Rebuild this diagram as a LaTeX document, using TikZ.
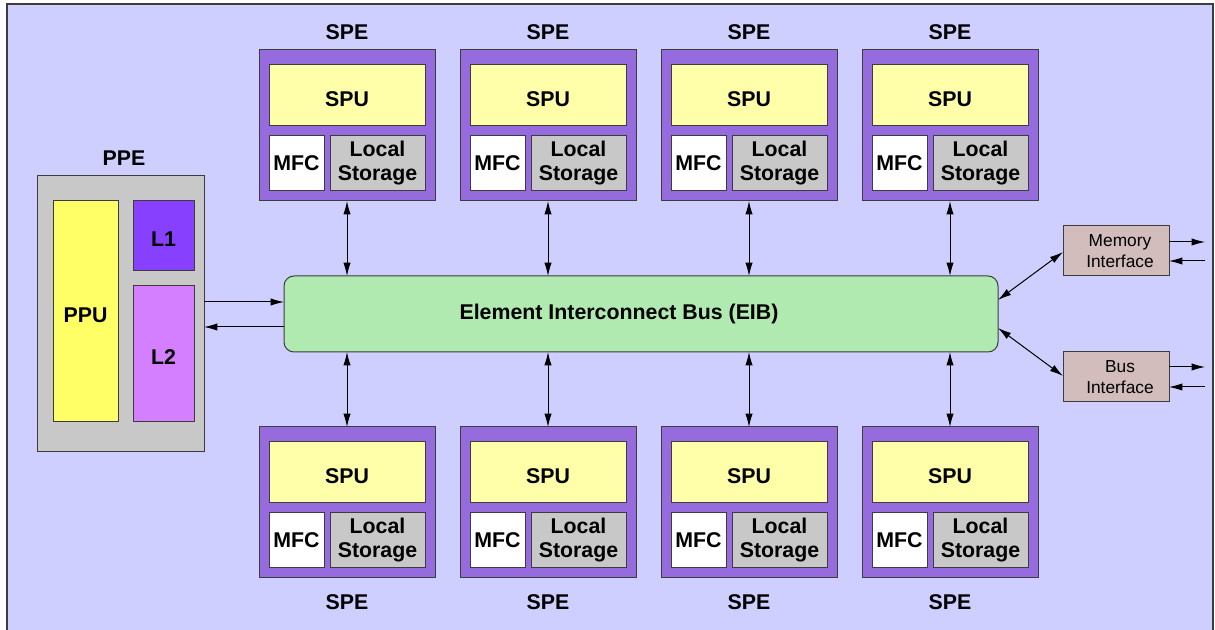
\documentclass[tikz,border=0pt]{standalone}
\usepackage{fontspec}
\setmainfont{Liberation Sans}
\usetikzlibrary{arrows.meta}
\definecolor{bgc}{RGB}{207,207,255}
\definecolor{spec}{RGB}{150,107,221}
\definecolor{spuc}{RGB}{255,255,170}
\definecolor{grayc}{RGB}{200,200,200}
\definecolor{ppuc}{RGB}{255,255,102}
\definecolor{lonec}{RGB}{136,64,255}
\definecolor{ltwoc}{RGB}{212,127,255}
\definecolor{eibc}{RGB}{176,234,176}
\definecolor{ifc}{RGB}{210,188,188}
\definecolor{linec}{RGB}{60,60,60}
\newcommand\bx[7]{%
 \pgfmathsetmacro\cx{(#2+#4)/2}\pgfmathsetmacro\cy{(#3+#5)/2}%
 \pgfmathsetmacro\ww{(#4-#2)*0.75}\pgfmathsetmacro\hh{(#5-#3)*0.75}%
 \node[#6, minimum width=\ww pt, minimum height=\hh pt] (#1) at (\cx,\cy) {#7};}
\begin{document}
\begin{tikzpicture}[x=0.75pt,y=-0.75pt,
  box/.style={draw=linec, line width=0.75pt, inner sep=0pt, outer sep=0pt, align=center,
    font=\fontsize{16}{18}\selectfont\bfseries},
  low/.style={text height=16pt, text depth=0pt},
  ifbox/.style={box, fill=ifc, font=\fontsize{13}{15.5}\selectfont},
  lbl/.style={font=\fontsize{16}{18}\selectfont\bfseries, inner sep=0pt},
  arr/.style={draw=black, line width=0.75pt, -{Latex[length=10pt,width=5.5pt]}},
  darr/.style={draw=black, line width=0.75pt, {Latex[length=10pt,width=5.5pt]}-{Latex[length=10pt,width=5.5pt]}}]
\useasboundingbox (0,0) rectangle (1215,630);
\fill[bgc] (7,4) rectangle (1213,632);
\draw[linec, line width=1pt] (7,640) -- (7,4) -- (1213,4) -- (1213,640);
% PPE
\bx{ppe}{37}{176}{204}{452}{box, fill=grayc}{}
\node[lbl] (ppel) at (124,158) {PPE};
\bx{ppu}{53}{201}{118}{422}{box, low, fill=ppuc}{PPU}
\bx{lone}{133}{201}{194}{271}{box, low, fill=lonec}{L1}
\bx{ltwo}{133}{286}{194}{422}{box, low, fill=ltwoc}{L2}
% EIB
\bx{eib}{284}{276}{998}{352}{box, fill=eibc, rounded corners=7.5pt}{}
\node[lbl] (eibt) at (619,314) {Element Interconnect Bus (EIB)};
% SPEs
\foreach \i/\xl in {1/259, 2/460, 3/661, 4/862}{
  \pgfmathsetmacro\xa{\xl}\pgfmathsetmacro\xb{\xl+176}
  \pgfmathsetmacro\xc{\xl+10}\pgfmathsetmacro\xd{\xl+166}
  \pgfmathsetmacro\xe{\xl+65}\pgfmathsetmacro\xf{\xl+71}
  \pgfmathsetmacro\xm{\xl+88}
  % top
  \bx{speT\i}{\xa}{50}{\xb}{201}{box, fill=spec}{}
  \bx{spuT\i}{\xc}{65}{\xd}{126}{box, low, fill=spuc}{SPU}
  \bx{mfcT\i}{\xc}{136}{\xe}{191}{box, fill=white}{MFC}
  \bx{lsT\i}{\xf}{136}{\xd}{191}{box, fill=grayc}{Local\\Storage}
  \node[lbl] (speTl\i) at (\xm,32) {SPE};
  % bottom
  \bx{speB\i}{\xa}{427}{\xb}{578}{box, fill=spec}{}
  \bx{spuB\i}{\xc}{442}{\xd}{503}{box, low, fill=spuc}{SPU}
  \bx{mfcB\i}{\xc}{513}{\xe}{568}{box, fill=white}{MFC}
  \bx{lsB\i}{\xf}{513}{\xd}{568}{box, fill=grayc}{Local\\Storage}
  \node[lbl] (speBl\i) at (\xm,602) {SPE};
  % connectors
  \draw[darr] (speT\i.south) -- (eib.north -| speT\i.south);
  \draw[darr] (eib.south -| speB\i.north) -- (speB\i.north);
}
% PPE <-> EIB
\draw[arr] (ppe.east |- 0,302) -- (eib.west |- 0,302);
\draw[arr] (eib.west |- 0,327) -- (ppe.east |- 0,327);
% Interfaces
\bx{mem}{1063}{226}{1169}{276}{ifbox}{\hspace*{6pt}Memory\\\hspace*{6pt}Interface}
\bx{bus}{1063}{352}{1169}{402}{ifbox}{\hspace*{6pt}Bus\\\hspace*{6pt}Interface}
\draw[darr] (eib.east |- 0,300) -- (mem.west |- 0,252);
\draw[darr] (eib.east |- 0,328) -- (bus.west |- 0,376);
\coordinate (mo) at (1205,242);
\coordinate (mi) at (1205,261);
\coordinate (bo) at (1205,367);
\coordinate (bi) at (1205,387);
\draw[arr] (mem.east |- mo) -- (mo);
\draw[arr] (mi) -- (mem.east |- mi);
\draw[arr] (bus.east |- bo) -- (bo);
\draw[arr] (bi) -- (bus.east |- bi);
\end{tikzpicture}
\end{document}
